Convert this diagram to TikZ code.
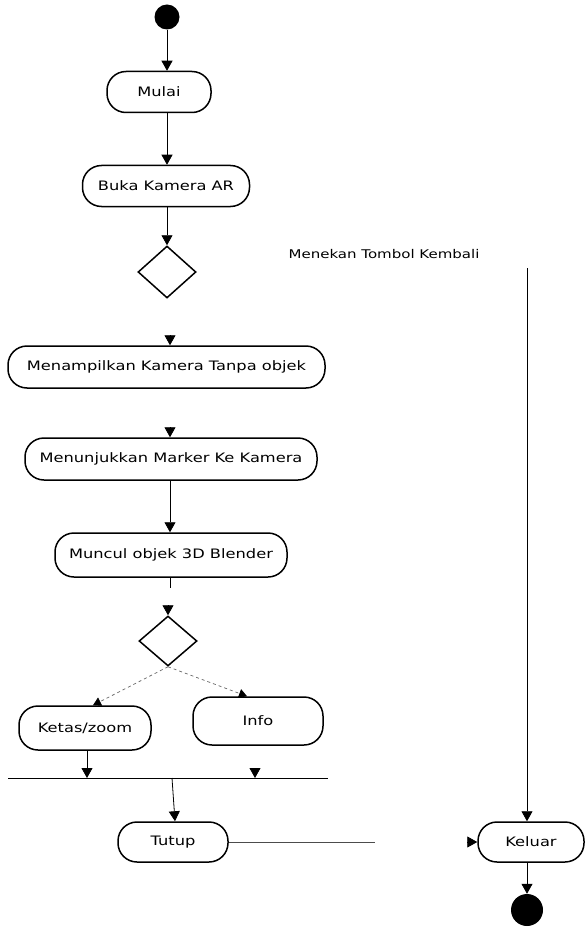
\documentclass[tikz,border=0pt]{standalone}
\usepackage{fontspec}
\newfontfamily\lbl{DejaVu Sans}[FakeStretch=1.25]
\usetikzlibrary{arrows.meta,shapes.geometric}
\tikzset{
  x=1pt, y=-1pt,
  act/.style={draw, line width=1.5pt, rounded corners=19pt, inner sep=0pt,
              font=\lbl\fontsize{13}{15}\selectfont},
  dec/.style={draw, diamond, line width=1.5pt, inner sep=0pt},
  flow/.style={line width=0.8pt, -{Triangle[length=10pt,width=11pt]}},
  alt/.style={line width=0.7pt, dashed, black!60, -{Triangle[length=8pt,width=9pt,fill=black,color=black]}},
  dot/.style={circle, fill=black, inner sep=0pt}
}
\begin{document}
\begin{tikzpicture}
\useasboundingbox (0,0) rectangle (588,928);

% start and end points
\node[dot, minimum size=25pt] (start) at (167,17) {};
\node[dot, minimum size=32pt] (stop) at (527,910) {};

% actions
\node[act, minimum width=104pt, minimum height=41pt] (mulai) at (159,92) {Mulai};
\node[act, minimum width=167pt, minimum height=41pt] (buka) at (166,186) {Buka Kamera AR};
\node[dec, minimum width=58pt, minimum height=52pt] (d1) at (167,272) {};
\node[act, minimum width=317pt, minimum height=42pt] (tampil) at (166.5,367) {Menampilkan Kamera Tanpa objek};
\node[act, minimum width=292pt, minimum height=42pt] (tunjuk) at (171,459) {Menunjukkan Marker Ke Kamera};
\node[act, minimum width=232pt, minimum height=44pt] (muncul) at (171,555) {Muncul objek 3D Blender};
\node[dec, minimum width=58pt, minimum height=50pt] (d2) at (168,641) {};
\node[act, minimum width=132pt, minimum height=44pt] (ketas) at (85,728) {Ketas/zoom};
\node[act, minimum width=130pt, minimum height=48pt] (info) at (258,721) {Info};
\node[act, minimum width=110pt, minimum height=40pt] (tutup) at (173,842) {Tutup};
\node[act, minimum width=106pt, minimum height=40pt] (keluar) at (531,842) {Keluar};

\node[font=\lbl\fontsize{12}{14}\selectfont] (kembali) at (384,254) {Menekan Tombol Kembali};

% join bar
\coordinate (barL) at (8,778);
\coordinate (barR) at (328,778);
\draw[line width=0.8pt] (barL) -- (barR);

% coordinates for loose ends
\coordinate (k1) at (527,268);
\coordinate (stub) at (170,588);
\coordinate (tutupEnd) at (375,842);

% main flow
\draw[flow] (start) -- (start |- mulai.north);
\draw[flow] (mulai.south -| start) -- (start |- buka.north);
\draw[flow] (buka.south -| d1) -- (d1.north);
\draw[flow] ([yshift=10pt]tampil.north -| stub) -- (tampil.north -| stub);
\draw[flow] ([yshift=10pt]tunjuk.north -| stub) -- (tunjuk.north -| stub);
\draw[flow] (tunjuk.south -| stub) -- (muncul.north -| stub);
\draw[line width=0.8pt] (muncul.south -| stub) -- (stub);
\draw[flow] ([yshift=10pt]d2.north) -- (d2.north);

% branches
\draw[alt] (d2.south) -- ([xshift=8pt]ketas.north);
\draw[alt] (d2.south) -- ([xshift=-11pt]info.north);

% merge
\draw[flow] ([xshift=2pt]ketas.south) -- ([xshift=2pt]ketas.south |- barL);
\draw[flow] ([xshift=-3pt,yshift=10pt]info.south |- barL) -- ([xshift=-3pt]info.south |- barL);
\draw[flow] ([xshift=-1pt]tutup.north |- barL) -- ([xshift=2pt]tutup.north);

% exit
\draw[line width=0.6pt, black!70] (tutup.east) -- (tutupEnd);
\draw[flow] ([xshift=-10pt]keluar.west) -- (keluar.west);
\draw[flow] (k1) -- (k1 |- keluar.north);
\draw[flow] (keluar.south -| k1) -- (stop.north);
\end{tikzpicture}
\end{document}
